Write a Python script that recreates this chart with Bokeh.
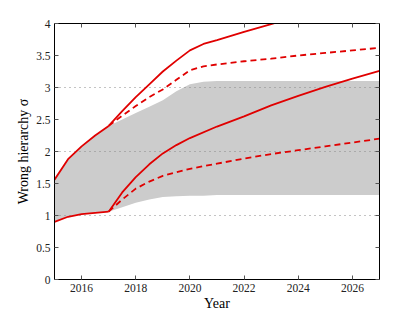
from bokeh.plotting import figure
from bokeh.models import LinearAxis, FixedTicker, Range1d
from bokeh.embed import file_html
from bokeh.resources import INLINE

# ---- data ----
band_years = [2015, 2015.5, 2016, 2016.5, 2017, 2017.5, 2018, 2018.5, 2019, 2019.5, 2020, 2020.5, 2021, 2027]
band_upper = [1.56, 1.88, 2.08, 2.25, 2.40, 2.50, 2.60, 2.70, 2.80, 2.94, 3.05, 3.09, 3.10, 3.10]
band_lower = [0.90, 0.98, 1.02, 1.04, 1.06, 1.13, 1.20, 1.25, 1.29, 1.30, 1.31, 1.31, 1.32, 1.32]

pre_years = [2015, 2015.5, 2016, 2016.5, 2017]
pre_upper = [1.56, 1.88, 2.08, 2.25, 2.40]
pre_lower = [0.90, 0.98, 1.02, 1.04, 1.06]

up_solid_years = [2017, 2017.5, 2018, 2018.5, 2019, 2019.5, 2020, 2020.5, 2021, 2022, 2023, 2024]
up_solid = [2.40, 2.63, 2.85, 3.05, 3.25, 3.42, 3.58, 3.68, 3.74, 3.87, 3.99, 4.12]

up_dash_years = [2017, 2017.5, 2018, 2018.5, 2019, 2019.5, 2020, 2020.5, 2021, 2022, 2023, 2024, 2025, 2026, 2027]
up_dash = [2.40, 2.56, 2.71, 2.85, 2.97, 3.12, 3.27, 3.33, 3.36, 3.41, 3.45, 3.50, 3.54, 3.58, 3.62]

lo_solid_years = [2017, 2017.5, 2018, 2018.5, 2019, 2019.5, 2020, 2021, 2022, 2023, 2024, 2025, 2026, 2027]
lo_solid = [1.06, 1.36, 1.60, 1.80, 1.97, 2.10, 2.21, 2.39, 2.55, 2.72, 2.87, 3.01, 3.14, 3.26]

lo_dash_years = [2017, 2017.5, 2018, 2018.5, 2019, 2020, 2021, 2022, 2023, 2024, 2025, 2026, 2027]
lo_dash = [1.06, 1.25, 1.42, 1.53, 1.62, 1.73, 1.81, 1.89, 1.96, 2.02, 2.08, 2.14, 2.20]

x_ticks = [2016, 2018, 2020, 2022, 2024, 2026]
y_ticks = [0, 0.5, 1, 1.5, 2, 2.5, 3, 3.5, 4]
y_tick_labels = ["0", "0.5", "1", "1.5", "2", "2.5", "3", "3.5", "4"]
grid_levels = [1, 2, 3]

FONT = "Liberation Serif"
RED = "#e00000"

p = figure(frame_width=325, frame_height=256, output_backend="svg", toolbar_location=None,
           x_range=Range1d(2015, 2027), y_range=Range1d(0, 4),
           min_border_left=54, min_border_top=23, min_border_right=28, min_border_bottom=28,
           x_axis_label="Year", y_axis_label="Wrong hierarchy \u03c3")
p.outline_line_color = None
p.background_fill_color = "white"
p.border_fill_color = "white"

band = p.varea(x=band_years, y1=band_lower, y2=band_upper, fill_color="#cccccc")
band.level = "image"

lw = 1.8
p.line(pre_years, pre_upper, line_color=RED, line_width=lw)
p.line(pre_years, pre_lower, line_color=RED, line_width=lw)
p.line(up_solid_years, up_solid, line_color=RED, line_width=lw)
p.line(up_dash_years, up_dash, line_color=RED, line_width=lw, line_dash="6 4")
p.line(lo_solid_years, lo_solid, line_color=RED, line_width=lw)
p.line(lo_dash_years, lo_dash, line_color=RED, line_width=lw, line_dash="6 4")

# grid
p.xgrid.visible = False
p.ygrid.ticker = FixedTicker(ticks=grid_levels)
p.ygrid.grid_line_color = "#888888"
p.ygrid.grid_line_dash = "1 4"
p.ygrid.grid_line_width = 1

def style_axis(ax, ticks, show_labels=True):
    ax.ticker = FixedTicker(ticks=ticks)
    ax.axis_line_color = "black"
    ax.axis_line_width = 1
    ax.major_tick_in = 4
    ax.major_tick_out = 0
    ax.major_tick_line_color = "#555555"
    ax.minor_tick_line_color = None
    ax.major_label_text_font = FONT
    ax.major_label_text_color = "#222222"
    ax.axis_label_text_font = FONT
    ax.axis_label_text_font_style = "normal"
    ax.axis_label_text_font_size = "14px"
    ax.axis_label_text_color = "black"
    ax.major_label_text_font_size = "11.5px"
    if show_labels:
        ax.major_label_standoff = 4
    else:
        ax.major_label_overrides = {t: "" for t in ticks}
        ax.major_label_standoff = 0

style_axis(p.xaxis[0], x_ticks)
p.xaxis[0].axis_label_standoff = 1
style_axis(p.yaxis[0], y_ticks)
p.yaxis[0].major_label_overrides = {t: s for t, s in zip(y_ticks, y_tick_labels)}
p.yaxis[0].axis_label_standoff = 2

top = LinearAxis()
style_axis(top, x_ticks, show_labels=False)
p.add_layout(top, "above")
right = LinearAxis()
style_axis(right, y_ticks, show_labels=False)
p.add_layout(right, "right")

open("out.html", "w").write(file_html(p, INLINE))
